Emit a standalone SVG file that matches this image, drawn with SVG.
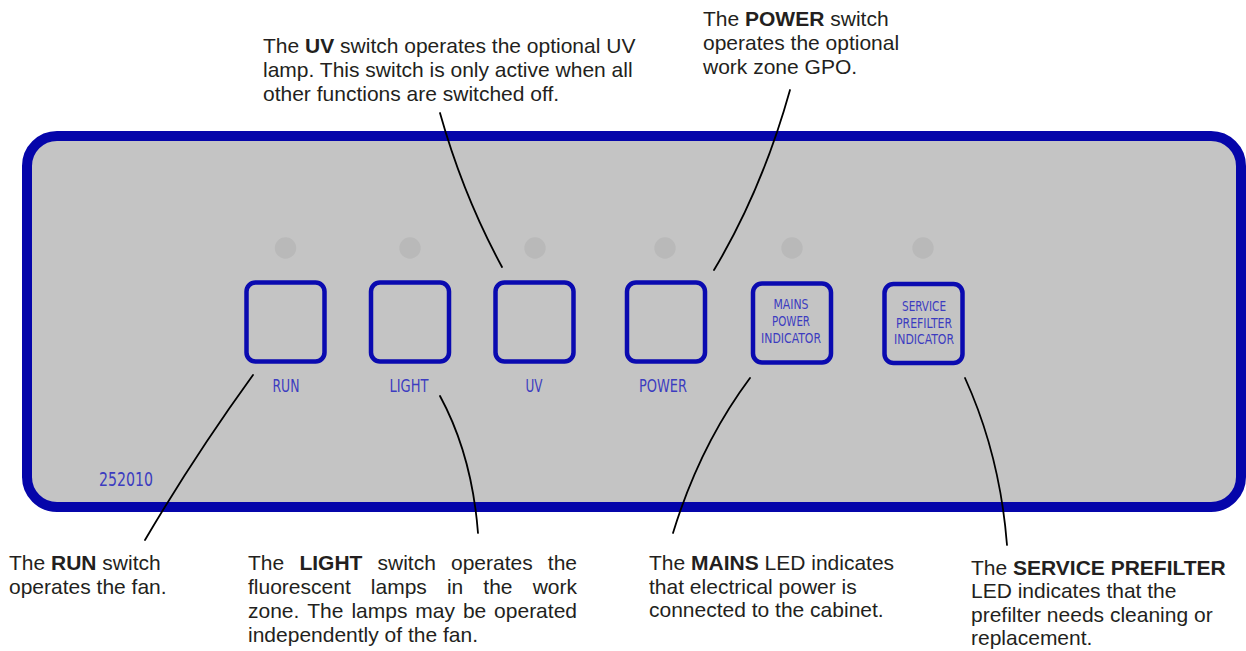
<svg xmlns="http://www.w3.org/2000/svg" width="1246" height="651" viewBox="0 0 1246 651">
<style>
.note{font-family:"Liberation Sans",Arial,sans-serif;font-size:21px;fill:#231f20}
.b{font-weight:bold}
.btn{fill:none;stroke:#0a0ab0;stroke-width:4.5}
.led{fill:#b9b9b9}
.lbl{font-family:"DejaVu Sans Condensed","Liberation Sans",sans-serif;fill:#3c3cc0;text-anchor:middle}
.lead{fill:none;stroke:#000;stroke-width:1.8;stroke-linecap:round}
</style>
<rect width="1246" height="651" fill="#fff"/>
<g id="panel">
<rect x="27" y="136" width="1214" height="371" rx="30" fill="#c4c4c4" stroke="#0505aa" stroke-width="10"/>
<text class="lbl" x="126" y="486" font-size="20" textLength="54" lengthAdjust="spacingAndGlyphs">252010</text>
</g>
<g id="run">
<circle class="led" cx="285.5" cy="248" r="10.7"/>
<rect class="btn" x="246.5" y="282.5" width="78" height="79" rx="9"/>
<text class="lbl" x="286" y="392" font-size="17.5" textLength="27" lengthAdjust="spacingAndGlyphs">RUN</text>
</g>
<g id="light">
<circle class="led" cx="410" cy="248" r="10.7"/>
<rect class="btn" x="371" y="282.5" width="78" height="79" rx="9"/>
<text class="lbl" x="409" y="392" font-size="17.5" textLength="39" lengthAdjust="spacingAndGlyphs">LIGHT</text>
</g>
<g id="uv">
<circle class="led" cx="535" cy="248" r="10.7"/>
<rect class="btn" x="495.5" y="282.5" width="78" height="79" rx="9"/>
<text class="lbl" x="534" y="392" font-size="17.5" textLength="17" lengthAdjust="spacingAndGlyphs">UV</text>
</g>
<g id="power">
<circle class="led" cx="665" cy="248" r="10.7"/>
<rect class="btn" x="627" y="282.5" width="78" height="79" rx="9"/>
<text class="lbl" x="663" y="392" font-size="17.5" textLength="48" lengthAdjust="spacingAndGlyphs">POWER</text>
</g>
<g id="mains">
<circle class="led" cx="792" cy="248" r="10.7"/>
<rect class="btn" x="753" y="283.5" width="78" height="79" rx="9"/>
<text class="lbl" font-size="14" x="791" y="309" textLength="35" lengthAdjust="spacingAndGlyphs">MAINS</text>
<text class="lbl" font-size="14" x="791" y="326" textLength="38" lengthAdjust="spacingAndGlyphs">POWER</text>
<text class="lbl" font-size="14" x="791" y="343" textLength="60" lengthAdjust="spacingAndGlyphs">INDICATOR</text>
</g>
<g id="service">
<circle class="led" cx="923" cy="248" r="10.7"/>
<rect class="btn" x="884.5" y="284" width="78" height="79" rx="9"/>
<text class="lbl" font-size="14" x="924" y="311" textLength="44" lengthAdjust="spacingAndGlyphs">SERVICE</text>
<text class="lbl" font-size="14" x="924" y="328" textLength="56" lengthAdjust="spacingAndGlyphs">PREFILTER</text>
<text class="lbl" font-size="14" x="924" y="344" textLength="60" lengthAdjust="spacingAndGlyphs">INDICATOR</text>
</g>
<g id="connectors">
<path class="lead" d="M440,113 Q463,195 502,267"/>
<path class="lead" d="M790,90 Q762,190 714,270"/>
<path class="lead" d="M253,375 Q195,455 145,540"/>
<path class="lead" d="M440,396 Q472,455 478,533"/>
<path class="lead" d="M750,378 Q700,445 673,533"/>
<path class="lead" d="M965,378 Q1000,455 1007,545"/>
</g>
<g id="note-uv">
<text class="note"><tspan x="263" y="53">The <tspan class="b">UV</tspan> switch operates the optional UV</tspan><tspan x="263" y="77">lamp. This switch is only active when all</tspan><tspan x="263" y="101">other functions are switched off.</tspan></text>
</g>
<g id="note-power">
<text class="note"><tspan x="703" y="26">The <tspan class="b">POWER</tspan> switch</tspan><tspan x="703" y="50">operates the optional</tspan><tspan x="703" y="74">work zone GPO.</tspan></text>
</g>
<g id="note-run">
<text class="note"><tspan x="9" y="570">The <tspan class="b">RUN</tspan> switch</tspan><tspan x="9" y="594">operates the fan.</tspan></text>
</g>
<g id="note-light">
<text class="note" x="248" y="570">The</text>
<text class="note b" x="299.4" y="570">LIGHT</text>
<text class="note" x="377.5" y="570">switch</text>
<text class="note" x="451" y="570">operates</text>
<text class="note" x="577" y="570" text-anchor="end">the</text>
<text class="note" x="248" y="594">fluorescent</text>
<text class="note" x="370.8" y="594">lamps</text>
<text class="note" x="446.9" y="594">in</text>
<text class="note" x="483.3" y="594">the</text>
<text class="note" x="577" y="594" text-anchor="end">work</text>
<text class="note" x="248" y="618">zone.</text>
<text class="note" x="307.3" y="618">The</text>
<text class="note" x="351.4" y="618">lamps</text>
<text class="note" x="415.3" y="618">may</text>
<text class="note" x="462.9" y="618">be</text>
<text class="note" x="577" y="618" text-anchor="end">operated</text>
<text class="note" x="248" y="642">independently of the fan.</text>
</g>
<g id="note-mains">
<text class="note"><tspan x="649" y="570">The <tspan class="b">MAINS</tspan> LED indicates</tspan><tspan x="649" y="594">that electrical power is</tspan><tspan x="649" y="617">connected to the cabinet.</tspan></text>
</g>
<g id="note-service">
<text class="note"><tspan x="971" y="575" class="b"><tspan font-weight="normal">The </tspan>SERVICE PREFILTER</tspan><tspan x="971" y="598">LED indicates that the</tspan><tspan x="971" y="622">prefilter needs cleaning or</tspan><tspan x="971" y="645">replacement.</tspan></text>
</g>
</svg>
